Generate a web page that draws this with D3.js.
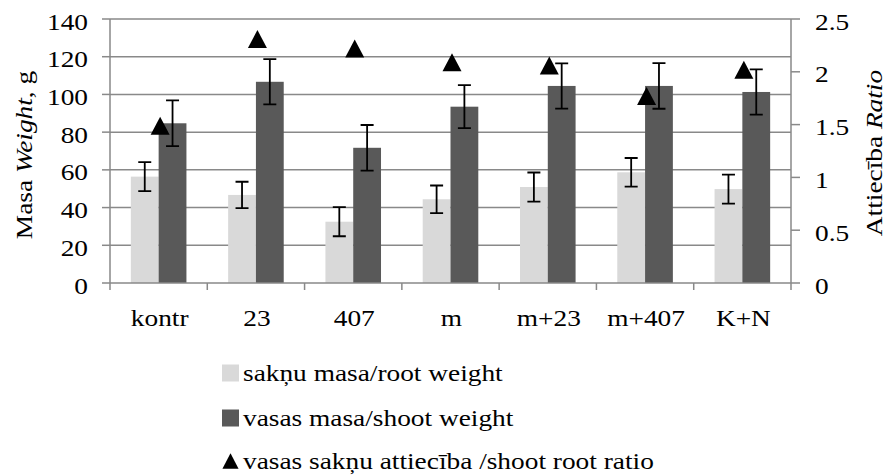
<!DOCTYPE html>
<html>
<head>
<meta charset="utf-8">
<script src="https://cdn.jsdelivr.net/npm/d3@7"></script>
<style>
  html, body { margin: 0; padding: 0; background: #fff; }
</style>
</head>
<body>
<svg id="chart" width="887" height="475"></svg>
<script>
// Treatments along the x axis
const categories = ["kontr", "23", "407", "m", "m+23", "m+407", "K+N"];

// Root weight (g) and its error
const rootWeight = [56.4, 46.7, 32.5, 44.4, 50.9, 58.7, 49.8];
const rootError  = [7.7, 7.0, 7.7, 7.3, 7.7, 7.6, 7.7];

// Shoot weight (g) and its error
const shootWeight = [84.7, 106.7, 71.7, 93.5, 104.5, 104.5, 101.3];
const shootError  = [12.1, 12.0, 12.1, 11.4, 12.0, 12.1, 12.0];

// Shoot : root ratio (right axis)
const ratio = [1.49, 2.31, 2.22, 2.09, 2.06, 1.77, 2.02];

// Axis ticks
const leftTicks  = [0, 20, 40, 60, 80, 100, 120, 140];
const rightTicks = [0, 0.5, 1, 1.5, 2, 2.5];

const legendLabels = [
  "sakņu masa/root weight",
  "vasas masa/shoot weight",
  "vasas sakņu attiecība /shoot root ratio"
];

const colors = { root: "#d9d9d9", shoot: "#595959", grid: "#898989" };

const svg = d3.select("#chart");
const plot = { left: 110, right: 791, top: 19, bottom: 283 };

const x = d3.scaleBand().domain(categories).range([plot.left, plot.right]).paddingInner(0).paddingOuter(0);
const yL = d3.scaleLinear().domain([0, 140]).range([plot.bottom, plot.top]);
const yR = d3.scaleLinear().domain([0, 2.5]).range([plot.bottom, plot.top]);

const barW = x.bandwidth() / 3.5;   // two bars plus a 150% gap per category
const cx = c => x(c) + x.bandwidth() / 2;
const FONT = "Liberation Serif";
const fontSize = 24;
const stretch = 1.14;                // slightly widened lettering

// Shared text styling; each text is positioned by transform so it can be widened
const styleText = sel => sel.attr("font-family", FONT).attr("font-size", fontSize).attr("fill", "#000");
const place = (px, py, rot) => `translate(${px},${py})${rot ? ` rotate(${rot})` : ""} scale(${stretch},1)`;

// Horizontal gridlines
svg.append("g").selectAll("line").data(leftTicks.filter(t => t > 0)).join("line")
  .attr("x1", plot.left).attr("x2", plot.right)
  .attr("y1", d => yL(d)).attr("y2", d => yL(d))
  .attr("stroke", colors.grid).attr("stroke-width", 1.5);

// Bars
const rows = categories.map((c, i) => ({ c, root: rootWeight[i], rErr: rootError[i], shoot: shootWeight[i], sErr: shootError[i], ratio: ratio[i] }));

svg.append("g").selectAll("rect").data(rows).join("rect")
  .attr("x", d => cx(d.c) - barW).attr("width", barW)
  .attr("y", d => yL(d.root)).attr("height", d => yL(0) - yL(d.root))
  .attr("fill", colors.root);

svg.append("g").selectAll("rect").data(rows).join("rect")
  .attr("x", d => cx(d.c)).attr("width", barW)
  .attr("y", d => yL(d.shoot)).attr("height", d => yL(0) - yL(d.shoot))
  .attr("fill", colors.shoot);

// Error bars
function errorBars(data, xOf, val, err) {
  const cap = 6.5;
  const g = svg.append("g").attr("stroke", "#000").attr("stroke-width", 1.8).attr("fill", "none");
  g.selectAll("path").data(data).join("path")
    .attr("d", d => {
      const xx = xOf(d), y1 = yL(val(d) + err(d)), y2 = yL(val(d) - err(d));
      return `M${xx},${y1}V${y2}M${xx - cap},${y1}H${xx + cap}M${xx - cap},${y2}H${xx + cap}`;
    });
}
errorBars(rows, d => cx(d.c) - barW / 2, d => d.root, d => d.rErr);
errorBars(rows, d => cx(d.c) + barW / 2, d => d.shoot, d => d.sErr);

// Ratio markers (triangles centred on the value)
const triW = 19, triH = 18;
const triPath = (px, py, s = 1) => `M${px},${py - s * triH / 2}L${px + s * triW / 2},${py + s * triH / 2}L${px - s * triW / 2},${py + s * triH / 2}Z`;
svg.append("g").selectAll("path").data(rows).join("path")
  .attr("d", d => triPath(cx(d.c) + 1.5, yR(d.ratio)))
  .attr("fill", "#000");

// Axis lines
const axisG = svg.append("g").attr("stroke", colors.grid).attr("stroke-width", 1.5);
axisG.append("line").attr("x1", plot.left).attr("x2", plot.left).attr("y1", plot.top).attr("y2", plot.bottom);
axisG.append("line").attr("x1", plot.right).attr("x2", plot.right).attr("y1", plot.top).attr("y2", plot.bottom);
axisG.append("line").attr("x1", plot.left).attr("x2", plot.right).attr("y1", plot.bottom).attr("y2", plot.bottom);

// Left ticks
axisG.selectAll(".tl").data(leftTicks).join("line")
  .attr("x1", plot.left - 8).attr("x2", plot.left)
  .attr("y1", d => yL(d)).attr("y2", d => yL(d));
// Right ticks
axisG.selectAll(".tr").data(rightTicks).join("line")
  .attr("x1", plot.right).attr("x2", plot.right + 9)
  .attr("y1", d => yR(d)).attr("y2", d => yR(d));
// Category boundary ticks
const bounds = categories.map(c => x(c)).concat([plot.right]);
axisG.selectAll(".tb").data(bounds).join("line")
  .attr("x1", d => d).attr("x2", d => d)
  .attr("y1", plot.bottom).attr("y2", plot.bottom + 7);

// Tick labels
svg.append("g").selectAll("text").data(leftTicks).join("text")
  .call(styleText)
  .attr("transform", d => place(88, yL(d) + 10.5))
  .attr("text-anchor", "end")
  .text(d => d);

svg.append("g").selectAll("text").data(rightTicks).join("text")
  .call(styleText)
  .attr("transform", d => place(815, yR(d) + 10.5))
  .attr("text-anchor", "start")
  .text(d => d);

svg.append("g").selectAll("text").data(categories).join("text")
  .call(styleText)
  .attr("transform", d => place(cx(d) + 1, 325.5))
  .attr("text-anchor", "middle")
  .text(d => d);

// Axis titles
const tL = svg.append("text").call(styleText)
  .attr("transform", place(32, 155, -90))
  .attr("text-anchor", "middle");
tL.append("tspan").text("Masa ");
tL.append("tspan").attr("font-style", "italic").text("Weight");
tL.append("tspan").text(", g");

const tR = svg.append("text").call(styleText)
  .attr("transform", place(882, 153, -90))
  .attr("text-anchor", "middle");
tR.append("tspan").text("Attiecība ");
tR.append("tspan").attr("font-style", "italic").text("Ratio");

// Legend
const legendY = [373, 418, 461];
const lg = svg.append("g");
lg.append("rect").attr("x", 222).attr("y", legendY[0] - 8.5).attr("width", 17).attr("height", 17).attr("fill", colors.root);
lg.append("rect").attr("x", 222).attr("y", legendY[1] - 8.5).attr("width", 17).attr("height", 17).attr("fill", colors.shoot);
lg.append("path").attr("d", triPath(230.5, legendY[2], 0.85)).attr("fill", "#000");
lg.selectAll("text").data(legendLabels).join("text")
  .call(styleText)
  .attr("transform", (d, i) => place(243, legendY[i] + 8))
  .text(d => d);
</script>
</body>
</html>
